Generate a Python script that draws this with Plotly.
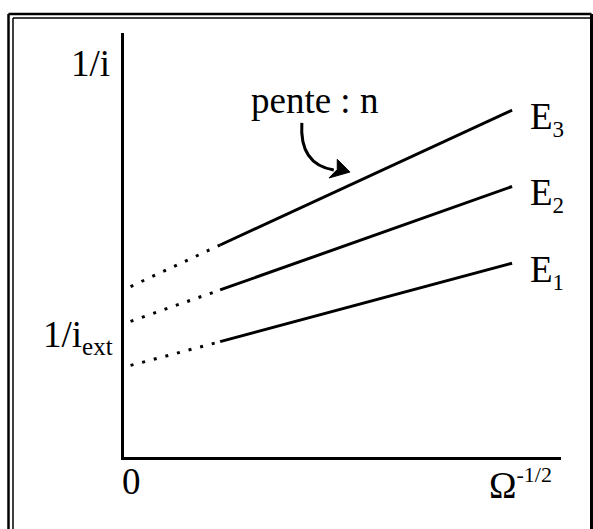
import plotly.graph_objects as go

# Ω^-1/2 positions: start of the extrapolation, start of the measured range, end
omega = [0.15, 2.2, 8.88]
# 1/i values along each line at those positions, one list per potential
inv_i_E1 = [2.16, 2.72, 4.57]
inv_i_E2 = [3.20, 3.94, 6.38]
inv_i_E3 = [4.02, 5.00, 8.18]
labels = ["E<sub>1</sub>", "E<sub>2</sub>", "E<sub>3</sub>"]
series = [inv_i_E1, inv_i_E2, inv_i_E3]

W, H = 593, 529
M = dict(l=124, r=32, t=33, b=72)
FONT = "Liberation Serif, Times New Roman, serif"


def paper_x(px):
    return (px - M["l"]) / (W - M["l"] - M["r"])


def paper_y(py):
    return (H - M["b"] - py) / (H - M["t"] - M["b"])


fig = go.Figure()

for vals in series:
    # extrapolated part towards Ω^-1/2 = 0
    fig.add_trace(go.Scatter(
        x=omega[:2], y=vals[:2], mode="lines",
        line=dict(color="black", width=3, dash="3px,9px"),
        hoverinfo="skip", showlegend=False,
    ))
    # measured part
    fig.add_trace(go.Scatter(
        x=omega[1:], y=vals[1:], mode="lines",
        line=dict(color="black", width=3),
        hoverinfo="skip", showlegend=False,
    ))

txt_font = dict(family=FONT, size=37, color="black")

# labels at the right end of each line
for lab, vals in zip(labels, series):
    fig.add_annotation(
        x=9.24, y=vals[-1] - 0.2, xref="x", yref="y",
        text=lab.replace("<sub>", "<sub><span style='font-size:23px'>").replace("</sub>", "</span></sub>"),
        showarrow=False, xanchor="left", yanchor="middle", font=txt_font,
    )

fig.add_annotation(x=4.35, y=8.4, text="pente : n", showarrow=False,
                   xanchor="center", yanchor="middle", font=txt_font)

# axis titles and the origin label sit outside the plotting area
fig.add_annotation(x=paper_x(112), y=paper_y(63), xref="paper", yref="paper",
                   text="1/i", showarrow=False,
                   xanchor="right", yanchor="middle", font=txt_font)
fig.add_annotation(x=paper_x(41), y=paper_y(337), xref="paper", yref="paper",
                   text="1/i<sub><span style='font-size:25px'>ext</span></sub>",
                   showarrow=False, xanchor="left", yanchor="middle", font=txt_font)
fig.add_annotation(x=paper_x(131), y=paper_y(482), xref="paper", yref="paper",
                   text="0", showarrow=False,
                   xanchor="center", yanchor="middle", font=txt_font)
fig.add_annotation(x=paper_x(487), y=paper_y(484), xref="paper", yref="paper",
                   text="Ω<sup><span style='font-size:22px'>-1/2</span></sup>",
                   showarrow=False, xanchor="left", yanchor="middle", font=txt_font)

# curved arrow pointing at the slope of the upper line
fig.add_shape(type="path", xref="x", yref="y",
              path="M 4.07,7.88 C 4.03,7.24 4.26,6.86 4.80,6.77",
              line=dict(color="black", width=3))
fig.add_shape(type="path", xref="x", yref="y",
              path="M 5.17,6.72 L 4.88,7.02 L 4.88,6.78 L 4.69,6.58 Z",
              line=dict(color="black", width=1), fillcolor="black")

# double frame around the figure
frame = [
    (8.5, 14, 591.5, 14, 2.5), (8.5, 14, 8.5, 540, 2.5),
    (13, 18, 591.5, 18, 1.5), (13, 18, 13, 540, 1.5),
    (591.5, 14, 591.5, 540, 3),
]
for x0, y0, x1, y1, w in frame:
    fig.add_shape(type="line", xref="paper", yref="paper",
                  x0=paper_x(x0), y0=paper_y(y0), x1=paper_x(x1), y1=paper_y(y1),
                  line=dict(color="black", width=w))

axis_common = dict(showgrid=False, zeroline=False, showticklabels=False,
                   ticks="", showline=True, linecolor="black", linewidth=3)
fig.update_xaxes(range=[0, 10], **axis_common)
fig.update_yaxes(range=[0, 10], **axis_common)

fig.update_layout(
    width=W, height=H, margin=M,
    plot_bgcolor="white", paper_bgcolor="white",
    showlegend=False,
)

fig.write_html("out.html")
